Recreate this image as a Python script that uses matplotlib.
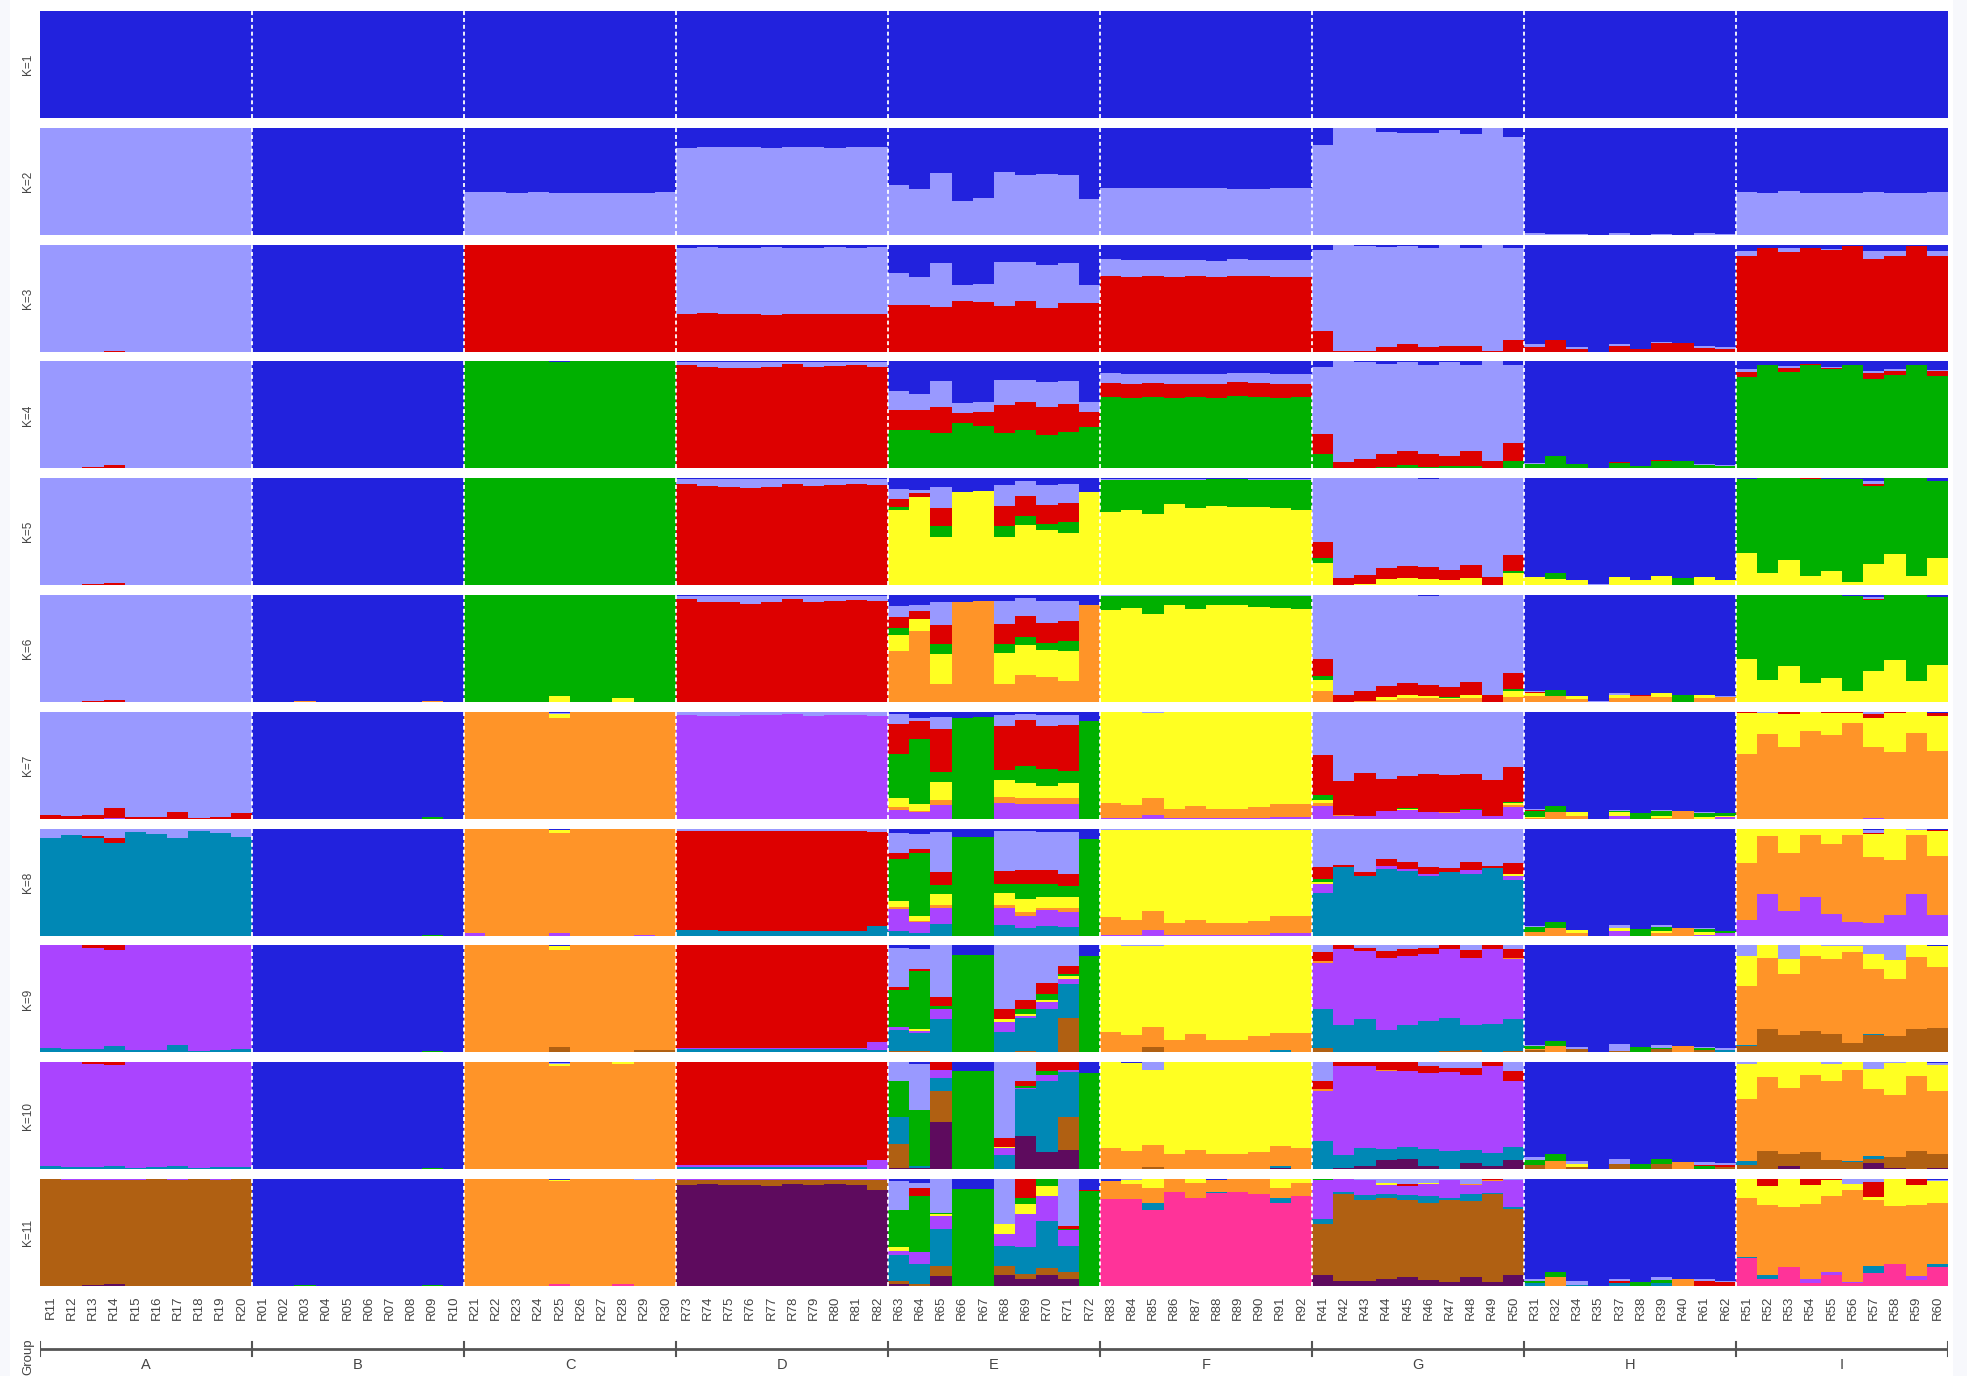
import matplotlib
matplotlib.use('Agg')
import matplotlib.pyplot as plt
from matplotlib.patches import Rectangle
import numpy as np

plt.rcParams['font.family'] = ['Liberation Sans', 'DejaVu Sans']

# ---------------- categories ----------------
groups = ['A', 'B', 'C', 'D', 'E', 'F', 'G', 'H', 'I']
group_sizes = [10, 10, 10, 10, 10, 10, 10, 10, 10]
individuals = [
    'R11', 'R12', 'R13', 'R14', 'R15', 'R16', 'R17', 'R18', 'R19', 'R20',
    'R01', 'R02', 'R03', 'R04', 'R05', 'R06', 'R07', 'R08', 'R09', 'R10',
    'R21', 'R22', 'R23', 'R24', 'R25', 'R26', 'R27', 'R28', 'R29', 'R30',
    'R73', 'R74', 'R75', 'R76', 'R77', 'R78', 'R79', 'R80', 'R81', 'R82',
    'R63', 'R64', 'R65', 'R66', 'R67', 'R68', 'R69', 'R70', 'R71', 'R72',
    'R83', 'R84', 'R85', 'R86', 'R87', 'R88', 'R89', 'R90', 'R91', 'R92',
    'R41', 'R42', 'R43', 'R44', 'R45', 'R46', 'R47', 'R48', 'R49', 'R50',
    'R31', 'R32', 'R34', 'R35', 'R37', 'R38', 'R39', 'R40', 'R61', 'R62',
    'R51', 'R52', 'R53', 'R54', 'R55', 'R56', 'R57', 'R58', 'R59', 'R60',
]
K_list = [1, 2, 3, 4, 5, 6, 7, 8, 9, 10, 11]
# cluster 1 (blue) is the remainder up to 100 %
clusters = ['blue', 'lav', 'red', 'grn', 'yel', 'org', 'pur', 'tea', 'brn', 'dpu', 'pnk']
colors = {'blue': '#2222DD', 'lav': '#9999FF', 'red': '#DD0000', 'grn': '#00B000',
          'yel': '#FFFF22', 'org': '#FF9428', 'pur': '#AA44FF', 'tea': '#0088B5',
          'brn': '#B06012', 'dpu': '#5E0B5E', 'pnk': '#FF3399'}

# ---------------- membership values (percent), groups A..I, 10 each ----------------
K2_lav = [100,100,100,100,100,100,100,100,100,100, 0,0,0,0,0,0,0,0,0,0,
          40,40,39,40,39,39,39,39,39,40, 81,82,82,82,81,82,82,81,82,82,
          47,43,58,32,34,59,56,57,56,33, 44,44,44,44,44,44,43,43,44,44,
          84,100,100,96,95,95,98,94,100,91, 2,1,1,0,2,0,1,0,2,1,
          40,39,41,39,39,39,40,39,39,40]

K3_lav = [100,100,100,99,100,100,100,100,100,100, 0,0,0,0,0,0,0,0,0,0,
          0,0,0,0,0,0,0,0,0,0, 62,62,62,62,64,62,62,63,62,63,
          29,26,41,15,17,41,37,40,38,17, 16,16,15,16,15,15,16,15,16,16,
          76,99,98,94,92,93,95,92,99,86, 3,0,2,0,2,0,1,0,2,2,
          5,0,4,0,1,0,7,5,0,5]
K3_red = [0,0,0,1,0,0,0,0,0,0, 0,0,0,0,0,0,0,0,0,0,
          100,100,100,100,100,100,100,100,100,100, 35,36,35,35,34,35,35,35,35,35,
          44,44,42,47,46,43,47,41,45,45, 71,70,71,70,71,70,71,71,70,70,
          19,1,1,4,7,4,5,5,1,11, 4,11,2,0,5,2,8,8,3,2,
          89,97,93,97,95,99,87,89,99,89]

K4_lav = [100,100,99,97,100,100,100,100,100,100, 0,0,0,0,0,0,0,0,0,0,
          0,0,0,0,0,0,0,0,0,0, 2,4,5,5,4,1,4,3,2,4,
          17,15,25,9,9,24,21,24,22,9, 9,9,8,9,9,9,8,9,9,9,
          63,94,90,85,83,84,87,81,93,73, 1,0,0,0,0,0,0,0,1,1,
          3,0,2,0,1,0,2,2,0,1]
K4_red = [0,0,1,3,0,0,0,0,0,0, 0,0,0,0,0,0,0,0,0,0,
          0,0,0,0,0,0,0,0,0,0, 97,95,94,94,95,98,95,96,97,95,
          19,19,24,10,13,26,26,26,26,14, 13,13,13,13,12,13,13,13,13,12,
          19,6,9,12,13,12,10,14,7,17, 0,0,0,0,1,0,1,0,0,0,
          5,0,4,1,1,0,5,4,0,5]
K4_grn = [0,0,0,0,0,0,0,0,0,0, 0,0,0,0,0,0,0,0,0,0,
          100,100,100,100,99,100,100,100,100,100, 0,0,0,0,0,0,0,0,0,0,
          36,36,33,42,40,33,36,31,34,39, 67,66,67,66,67,66,68,67,66,67,
          13,0,0,1,3,1,2,2,0,7, 4,12,4,0,5,2,7,7,3,2,
          85,97,90,97,93,97,84,87,97,86]

K5_lav = [100,100,99,98,100,100,100,100,100,100, 0,0,0,0,0,0,0,0,0,0,
          0,0,0,0,0,0,0,0,0,0, 4,6,7,8,7,4,6,5,4,5,
          9,3,20,0,0,20,14,19,18,0, 1,1,1,1,1,0,0,1,1,1,
          60,93,90,84,82,82,86,81,92,72, 0,0,0,1,0,0,0,0,0,0,
          0,0,0,0,0,0,2,0,0,0]
K5_red = [0,0,1,2,0,0,0,0,0,0, 0,0,0,0,0,0,0,0,0,0,
          0,0,0,0,0,0,0,0,0,0, 95,93,92,91,92,95,93,94,95,94,
          8,4,17,0,0,19,18,18,18,0, 0,0,0,0,0,0,0,0,0,0,
          15,7,9,10,11,11,9,12,8,15, 0,0,0,0,0,0,0,0,0,0,
          0,0,0,1,0,0,2,0,0,0]
K5_grn = [0,0,0,0,0,0,0,0,0,0, 0,0,0,0,0,0,0,0,0,0,
          100,100,100,100,100,100,100,100,100,100, 0,0,0,0,0,0,0,0,0,0,
          3,0,10,0,0,10,9,5,10,0, 30,28,31,22,26,25,26,25,26,28,
          4,0,0,0,0,0,0,0,0,2, 0,5,0,0,0,0,0,7,0,0,
          69,89,76,90,86,96,73,71,91,72]
K5_yel = [0,0,0,0,0,0,0,0,0,0, 0,0,0,0,0,0,0,0,0,0,
          0,0,0,0,0,0,0,0,0,0, 0,0,0,0,0,0,0,0,0,0,
          70,82,45,87,88,45,56,52,49,87, 68,70,67,76,72,74,73,73,72,70,
          21,0,1,6,7,6,5,7,0,11, 8,6,5,0,8,5,9,0,8,5,
          30,11,24,9,13,3,20,29,9,25]

K6_lav = [100,100,99,98,100,100,100,100,100,100, 0,0,0,0,0,0,0,0,0,0,
          0,0,0,0,0,0,0,0,0,0, 3,6,6,7,6,3,6,5,4,5,
          11,6,21,0,0,21,17,20,18,0, 1,1,1,1,1,1,1,1,1,1,
          60,93,90,85,82,83,86,81,93,73, 1,0,0,1,1,0,0,0,0,1,
          0,0,0,0,0,0,2,0,0,0]
K6_red = [0,0,1,2,0,0,0,0,0,0, 0,0,0,0,0,0,0,0,0,0,
          0,0,0,0,0,0,0,0,0,0, 96,93,93,92,93,96,93,94,95,94,
          10,7,18,0,0,19,19,19,19,0, 0,0,0,0,0,0,0,0,0,0,
          16,7,9,10,11,10,9,12,7,15, 1,0,0,0,0,1,0,0,0,0,
          0,0,0,0,0,0,1,0,0,0]
K6_grn = [0,0,0,0,0,0,0,0,0,0, 0,0,0,0,0,0,0,0,0,0,
          100,100,100,100,94,100,100,96,100,100, 0,0,0,0,0,0,0,0,0,0,
          6,0,9,0,0,8,8,6,9,0, 13,11,17,8,12,8,8,10,11,12,
          3,0,0,0,0,0,1,0,0,2, 0,5,0,0,0,0,0,7,0,0,
          60,79,66,82,78,89,66,61,80,63]
K6_yel = [0,0,0,0,0,0,0,0,0,0, 0,0,0,0,0,0,0,0,0,0,
          0,0,0,0,6,0,0,4,0,0, 0,0,0,0,0,0,0,0,0,0,
          15,12,28,0,0,29,28,26,28,0, 86,88,82,91,87,91,91,89,88,87,
          11,0,0,3,3,2,1,3,0,5, 2,0,3,0,3,0,3,0,3,0,
          40,21,34,18,22,10,29,39,20,35]
K6_org = [0,0,0,0,0,0,0,0,0,0, 0,0,1,0,0,0,0,0,1,0,
          0,0,0,0,0,0,0,0,0,0, 0,0,0,0,0,0,0,0,0,0,
          48,66,17,93,94,17,25,23,20,91, 0,0,0,0,0,0,0,0,0,0,
          10,0,1,2,4,4,3,4,0,5, 6,6,3,0,4,6,5,0,4,5,
          0,0,0,0,0,0,0,0,0,0]

K7_lav = [96,97,96,90,98,98,94,99,98,95, 0,0,0,0,0,0,0,0,0,0,
          0,0,0,0,1,0,0,0,0,0, 3,4,4,3,3,2,4,3,3,4,
          9,3,11,0,0,10,6,10,9,0, 0,0,1,0,0,0,0,0,0,0,
          40,65,57,63,60,58,59,58,64,52, 1,0,0,0,1,0,1,0,1,0,
          0,1,0,0,0,0,2,0,0,0]
K7_red = [4,3,4,9,2,2,6,1,2,5, 0,0,0,0,0,0,0,0,0,0,
          0,0,0,0,0,0,0,0,0,0, 0,0,0,0,0,0,0,0,0,0,
          28,16,40,0,0,41,43,40,43,0, 0,0,0,0,0,0,0,0,0,0,
          38,31,40,30,30,36,35,33,33,32, 1,0,0,0,0,0,0,0,0,0,
          1,0,2,0,1,1,4,1,0,3]
K7_grn = [0,0,0,0,0,0,0,0,0,0, 0,0,0,0,0,0,0,0,2,0,
          0,0,0,0,0,0,0,0,0,0, 0,0,0,0,0,0,0,0,0,0,
          42,61,10,94,95,10,16,16,12,91, 0,0,0,0,0,0,0,0,0,0,
          4,0,0,0,1,0,0,1,0,1, 5,6,0,0,1,5,4,0,3,2,
          0,0,0,0,0,0,0,0,0,0]
K7_yel = [0,0,0,0,0,0,0,0,0,0, 0,0,0,0,0,0,0,0,0,0,
          0,0,0,0,4,0,0,0,0,0, 0,0,0,0,0,0,0,0,0,0,
          8,7,16,0,0,16,14,12,14,0, 85,87,80,91,88,91,91,89,86,86,
          3,0,0,0,1,0,0,0,0,2, 1,0,3,0,3,0,2,0,2,1,
          38,20,31,18,21,9,27,37,20,33]
K7_org = [0,0,0,0,0,0,0,0,0,0, 0,0,0,0,0,0,0,0,0,0,
          100,100,100,100,94,100,100,100,100,100, 0,0,0,0,0,0,0,0,0,0,
          3,1,5,0,0,5,5,5,5,0, 14,12,15,8,11,8,8,10,12,12,
          3,1,0,0,0,0,1,0,0,2, 1,6,3,0,0,0,1,7,0,0,
          61,79,67,82,78,90,66,62,80,63]
K7_pur = [0,0,0,1,0,0,0,0,0,0, 0,0,0,0,0,0,0,0,0,0,
          0,0,0,0,0,0,0,0,0,0, 97,96,96,97,97,98,96,97,97,96,
          8,6,13,0,0,15,14,14,14,0, 1,1,4,1,1,1,1,1,2,2,
          12,3,3,7,8,6,5,8,3,11, 0,0,0,0,3,0,0,0,0,2,
          0,0,0,0,0,0,1,0,0,0]

K8_lav = [9,6,7,9,3,5,9,2,4,8, 0,0,0,0,0,0,0,0,0,0,
          0,0,0,0,0,0,0,0,0,0, 2,2,2,2,2,2,2,2,2,3,
          19,14,38,0,0,38,37,36,39,0, 1,1,1,1,1,1,1,1,1,1,
          36,34,41,28,31,36,37,31,35,32, 1,0,0,0,3,0,2,0,1,0,
          0,0,0,0,0,0,3,0,1,0]
K8_red = [0,0,2,4,0,0,0,0,0,0, 0,0,0,0,0,0,0,0,0,0,
          0,0,0,0,0,0,0,0,0,0, 93,93,94,94,94,94,94,94,94,88,
          5,4,12,0,0,12,13,13,12,0, 0,0,0,0,0,0,0,0,0,0,
          11,2,3,7,7,6,4,8,2,10, 0,0,0,0,0,0,0,0,0,0,
          0,0,0,0,0,0,1,0,0,1]
K8_grn = [0,0,0,0,0,0,0,0,0,0, 0,0,0,0,0,0,0,0,1,0,
          0,0,0,0,0,0,0,0,0,0, 0,0,0,0,0,0,0,0,0,0,
          40,59,8,92,92,8,14,12,10,90, 0,0,0,0,0,0,0,0,0,0,
          3,0,0,0,0,0,0,0,0,0, 5,6,0,0,0,6,4,0,3,2,
          0,0,0,0,0,0,0,0,0,0]
K8_yel = [0,0,0,0,0,0,0,0,0,0, 0,0,0,0,0,0,0,0,0,0,
          0,0,0,0,3,0,0,0,0,0, 0,0,0,0,0,0,0,0,0,0,
          5,4,10,0,0,11,12,10,10,0, 82,84,76,87,84,87,87,85,81,81,
          2,0,0,0,0,0,0,0,0,2, 0,0,3,0,3,0,2,0,2,0,
          32,7,23,6,14,6,22,29,5,24]
K8_org = [0,0,0,0,0,0,0,0,0,0, 0,0,0,0,0,0,0,0,0,0,
          98,100,100,100,94,100,100,100,99,100, 0,0,0,0,0,0,0,0,0,0,
          2,1,3,0,0,3,4,2,4,0, 16,14,18,11,14,11,11,13,16,16,
          0,0,0,0,0,0,0,0,0,0, 3,7,2,0,0,0,2,7,0,0,
          53,54,54,58,66,81,61,52,55,55]
K8_pur = [0,0,0,0,0,0,0,0,0,0, 0,0,0,0,0,0,0,0,0,0,
          2,0,0,0,2,0,0,0,1,0, 0,0,0,0,0,0,0,0,0,0,
          21,11,15,0,0,16,11,15,14,0, 1,1,5,1,1,1,1,1,2,2,
          8,0,0,3,2,2,0,3,0,4, 0,0,0,0,4,0,0,0,1,2,
          15,39,23,36,20,13,12,19,39,19]
K8_tea = [91,94,91,87,97,95,91,98,96,92, 0,0,0,0,0,0,0,0,0,0,
          0,0,0,0,0,0,0,0,0,0, 5,5,4,4,4,4,4,4,4,9,
          4,2,11,0,0,10,7,9,8,0, 0,0,0,0,0,0,0,0,0,0,
          40,64,56,62,60,56,59,58,63,52, 0,0,0,0,0,0,0,0,0,0,
          0,0,0,0,0,0,0,0,0,0]

K9_lav = [0,0,0,0,0,0,0,0,0,0, 0,0,0,0,0,0,0,0,0,0,
          0,0,0,0,0,0,0,0,0,0, 0,0,0,0,0,0,0,0,0,0,
          37,19,48,0,0,59,51,35,19,0, 0,1,1,0,0,0,0,0,0,0,
          6,0,2,5,3,2,0,4,0,3, 1,0,2,0,7,0,3,0,1,2,
          10,0,13,0,1,1,8,14,0,0]
K9_red = [0,0,2,4,0,0,0,0,0,0, 0,0,0,0,0,0,0,0,0,0,
          0,0,0,0,0,0,0,0,0,0, 96,96,96,96,96,96,96,96,96,90,
          3,2,9,0,0,10,8,10,8,0, 0,0,0,0,0,0,0,0,0,0,
          9,3,3,7,7,6,3,8,3,9, 0,0,0,0,0,0,0,0,0,0,
          0,0,0,0,0,0,0,0,0,0]
K9_grn = [0,0,0,0,0,0,0,0,0,0, 0,0,0,0,0,0,0,0,1,0,
          0,0,0,0,0,0,0,0,0,0, 0,0,0,0,0,0,0,0,0,0,
          34,54,2,91,91,0,5,6,2,90, 0,0,0,0,0,0,0,0,0,0,
          0,0,0,0,0,0,0,0,0,0, 3,5,0,0,0,5,1,0,2,0,
          0,0,0,0,0,0,0,0,0,0]
K9_yel = [0,0,0,0,0,0,0,0,0,0, 0,0,0,0,0,0,0,0,0,0,
          0,0,0,0,3,0,0,0,0,0, 0,0,0,0,0,0,0,0,0,0,
          0,2,0,0,0,3,2,2,2,0, 81,83,75,88,83,88,88,85,82,82,
          0,0,0,0,0,0,0,0,0,0, 0,0,0,0,0,0,0,0,0,0,
          28,12,14,10,12,5,14,17,11,19]
K9_org = [0,0,0,0,0,0,0,0,0,0, 0,0,0,0,0,0,0,0,0,0,
          100,100,100,100,91,100,100,100,98,98, 0,0,0,0,0,0,0,0,0,0,
          0,0,0,0,0,0,0,0,0,0, 19,16,19,12,17,12,12,15,16,18,
          1,0,0,0,0,0,0,0,0,1, 1,6,0,0,0,0,0,6,0,0,
          55,66,57,70,70,85,61,54,67,57]
K9_pur = [96,97,95,90,98,98,93,99,98,97, 0,0,0,0,0,0,0,0,0,0,
          0,0,0,0,0,0,0,0,0,0, 1,1,1,1,1,1,1,1,1,8,
          3,2,10,0,0,9,2,6,5,0, 0,0,0,0,0,0,0,0,0,0,
          43,71,64,67,64,63,65,62,70,56, 0,0,0,0,0,0,0,0,0,0,
          0,0,0,0,0,0,0,0,0,0]
K9_tea = [4,3,3,6,2,2,7,1,2,3, 0,0,0,0,0,0,0,0,0,0,
          0,0,0,0,0,0,0,0,0,0, 3,3,3,3,3,3,3,3,3,2,
          20,17,31,0,0,19,31,41,32,0, 0,0,0,0,0,0,0,0,2,0,
          37,26,31,21,26,29,31,24,27,30, 0,0,0,0,0,0,0,0,0,2,
          1,0,0,0,0,0,1,0,0,0]
K9_brn = [0,0,0,0,0,0,0,0,0,0, 0,0,0,0,0,0,0,0,0,0,
          0,0,0,0,5,0,0,0,2,2, 0,0,0,0,0,0,0,0,0,0,
          1,1,0,0,0,0,1,0,32,0, 0,0,5,0,0,0,0,0,0,0,
          4,0,0,0,0,0,1,2,0,1, 2,0,3,0,1,0,3,0,2,0,
          6,22,16,20,17,9,16,15,22,23]

K10_lav = [0,0,0,0,0,0,0,0,0,0, 0,0,0,0,0,0,0,0,0,0,
           0,0,0,0,1,0,0,0,0,0, 0,0,0,0,0,0,0,0,0,0,
           18,43,0,0,0,71,18,0,0,0, 0,0,7,0,0,0,0,0,0,0,
           18,0,0,0,0,4,5,5,0,8, 2,0,3,0,5,0,0,0,3,2,
           2,0,0,0,2,0,6,1,0,2]
K10_red = [0,0,2,3,0,0,0,0,0,0, 0,0,0,0,0,0,0,0,0,0,
           0,0,0,0,0,0,0,0,0,0, 96,96,96,96,96,96,96,96,96,91,
           0,0,7,0,0,8,4,8,7,0, 0,0,0,0,0,0,0,0,0,0,
           7,4,4,7,8,6,4,7,4,10, 0,0,0,0,0,0,0,0,1,2,
           0,0,0,0,0,0,0,0,0,0]
K10_grn = [0,0,0,0,0,0,0,0,0,0, 0,0,0,0,0,0,0,0,1,0,
           0,0,0,0,0,0,0,0,0,0, 0,0,0,0,0,0,0,0,0,0,
           33,52,0,92,92,0,2,4,0,90, 0,0,0,0,0,0,0,0,0,0,
           0,0,0,0,0,0,0,0,0,0, 5,6,0,0,0,5,5,0,3,0,
           0,0,0,0,0,0,0,0,0,0]
K10_yel = [0,0,0,0,0,0,0,0,0,0, 0,0,0,0,0,0,0,0,0,0,
           0,0,0,0,2,0,0,2,0,0, 0,0,0,0,0,0,0,0,0,0,
           0,0,0,0,0,1,0,0,0,0, 80,82,70,86,82,86,86,84,78,80,
           0,0,0,0,0,0,0,0,0,0, 0,0,3,0,0,0,0,0,0,0,
           32,14,24,12,16,7,19,30,13,24]
K10_org = [0,0,0,0,0,0,0,0,0,0, 0,0,0,0,0,0,0,0,0,0,
           100,100,100,100,96,100,100,98,100,100, 0,0,0,0,0,0,0,0,0,0,
           0,0,0,0,0,0,0,0,0,0, 20,17,21,14,18,14,14,16,19,20,
           2,0,0,1,0,0,0,0,0,0, 0,8,0,0,0,0,0,7,0,0,
           58,69,62,72,73,85,63,58,70,59]
K10_pur = [97,98,96,94,99,98,97,99,98,98, 0,0,0,0,0,0,0,0,0,0,
           0,0,0,0,0,0,0,0,0,0, 2,2,2,2,2,2,2,2,2,9,
           0,0,8,0,0,7,1,6,2,0, 0,0,0,0,0,0,0,0,0,0,
           47,83,76,73,71,71,74,70,81,61, 0,0,0,0,0,0,0,0,0,0,
           0,0,0,0,0,0,0,0,0,0]
K10_tea = [3,2,2,3,1,2,3,1,2,2, 0,0,0,0,0,0,0,0,0,0,
           0,0,0,0,0,0,0,0,0,0, 2,2,2,2,2,2,2,2,2,0,
           25,2,12,0,0,13,44,66,42,0, 0,0,0,0,0,0,0,0,2,0,
           26,12,17,10,11,16,17,12,12,12, 0,0,0,0,0,0,0,0,0,0,
           4,0,0,0,0,1,2,0,0,0]
K10_brn = [0,0,0,0,0,0,0,0,0,0, 0,0,0,0,0,0,0,0,0,0,
           0,0,0,0,0,0,0,0,0,0, 0,0,0,0,0,0,0,0,0,0,
           23,0,29,0,0,0,0,0,31,0, 0,0,2,0,0,0,0,0,0,0,
           0,0,0,0,0,0,0,0,0,0, 4,0,2,0,5,0,5,0,0,2,
           4,17,11,16,9,7,4,10,17,13]
K10_dpu = [0,0,0,0,0,0,0,0,0,0, 0,0,0,0,0,0,0,0,0,0,
           0,0,0,0,0,0,0,0,0,0, 0,0,0,0,0,0,0,0,0,0,
           1,1,44,0,0,0,31,16,18,0, 0,0,0,0,0,0,0,0,1,0,
           0,1,3,9,10,3,0,6,3,9, 0,0,0,0,0,0,0,0,0,0,
           0,0,3,0,0,0,6,1,0,1]

K11_lav = [0,0,0,0,0,0,0,0,0,0, 0,0,0,0,0,0,0,0,0,0,
           0,0,0,0,0,0,0,0,1,0, 0,0,0,0,0,0,0,0,0,0,
           27,4,32,0,0,42,0,0,44,0, 0,1,0,0,0,0,0,0,0,0,
           0,0,1,4,5,4,1,5,0,1, 2,0,4,0,2,0,2,0,2,1,
           0,0,0,0,0,5,3,0,0,1]
K11_red = [0,0,0,0,0,0,0,0,0,0, 0,0,0,0,0,0,0,0,0,0,
           0,0,0,0,0,0,0,0,0,0, 0,0,0,0,0,0,0,0,0,0,
           0,8,0,0,0,0,18,0,3,1, 0,0,0,0,0,0,0,0,0,0,
           0,0,0,0,2,0,0,0,1,0, 0,0,0,0,2,0,0,0,5,4,
           0,7,0,6,1,0,14,0,6,0]
K11_grn = [0,0,0,0,0,0,0,0,0,0, 0,0,1,0,0,0,0,0,1,0,
           0,0,0,0,0,0,0,0,0,0, 0,0,0,0,0,0,0,0,0,0,
           35,52,1,91,91,0,5,7,1,89, 0,0,0,0,0,0,0,0,0,0,
           1,0,0,0,0,0,0,0,0,0, 2,5,0,0,0,4,3,0,0,0,
           0,0,0,0,0,0,0,0,0,0]
K11_yel = [0,0,0,0,0,0,0,0,0,0, 0,0,0,0,0,0,0,0,0,0,
           0,0,0,0,1,0,0,0,0,0, 0,0,0,0,0,0,0,0,0,0,
           3,0,2,0,0,9,10,9,0,0, 0,4,8,0,4,0,0,0,8,4,
           0,0,0,2,0,1,0,0,0,0, 0,0,0,0,0,0,0,0,0,0,
           18,17,26,17,15,5,3,25,18,20]
K11_org = [0,0,0,0,0,0,0,0,0,0, 0,0,0,0,0,0,0,0,0,0,
           100,100,100,100,96,100,100,98,99,100, 0,0,0,0,0,0,0,0,0,0,
           0,0,0,0,0,0,0,0,0,0, 17,14,14,12,14,11,12,14,10,12,
           0,0,0,0,0,0,0,1,1,0, 0,8,0,0,0,0,0,7,0,0,
           55,66,56,70,71,86,61,54,67,57]
K11_pur = [0,1,1,1,1,0,1,0,1,0, 0,0,0,0,0,0,0,0,0,0,
           0,0,0,0,0,0,0,0,0,0, 1,1,1,1,1,1,1,1,1,1,
           4,11,12,0,0,12,31,23,15,0, 0,0,0,0,0,0,0,0,0,0,
           36,12,14,8,8,11,17,8,11,25, 0,0,0,0,0,0,0,0,0,0,
           0,0,0,4,3,1,0,0,3,0]
K11_tea = [0,0,0,0,0,0,0,0,0,0, 0,0,0,0,0,0,0,0,0,0,
           0,0,0,0,0,0,0,0,0,0, 0,0,0,0,0,0,0,0,0,0,
           24,19,34,0,0,18,25,44,24,0, 0,0,7,0,0,1,0,0,4,0,
           5,2,5,4,5,6,2,7,1,2, 3,0,1,0,3,0,3,0,0,0,
           1,3,0,0,0,0,7,0,0,3]
K11_brn = [100,99,98,97,99,100,99,100,99,100, 0,0,0,0,0,0,0,0,0,0,
           0,0,0,0,0,0,0,0,0,0, 5,4,5,5,6,4,5,4,5,9,
           3,2,10,0,0,9,4,7,6,0, 0,0,0,0,0,0,0,0,0,0,
           48,81,75,75,72,72,76,71,82,62, 0,0,0,0,0,0,0,0,0,0,
           0,0,0,0,0,0,0,0,0,0]
K11_dpu = [0,0,1,2,0,0,0,0,0,0, 0,0,0,0,0,0,0,0,0,0,
           0,0,0,0,0,0,0,0,0,0, 94,95,94,94,93,95,94,95,94,90,
           2,0,9,0,0,10,7,10,7,0, 0,0,0,0,0,0,0,0,0,0,
           10,5,5,7,8,6,4,8,4,10, 0,0,0,0,0,0,0,0,0,0,
           0,0,0,0,0,0,0,0,0,0]
K11_pnk = [0,0,0,0,0,0,0,0,0,0, 0,0,0,0,0,0,0,0,0,0,
           0,0,0,0,2,0,0,2,0,0, 0,0,0,0,0,0,0,0,0,0,
           0,0,0,0,0,0,0,0,0,0, 81,81,71,88,82,87,88,86,78,84,
           0,0,0,0,0,0,0,0,0,0, 0,0,0,0,0,0,0,0,0,0,
           26,7,18,3,10,3,12,21,6,18]

K_values = {
    1: {},
    2: {'lav': K2_lav},
    3: {'lav': K3_lav, 'red': K3_red},
    4: {'lav': K4_lav, 'red': K4_red, 'grn': K4_grn},
    5: {'lav': K5_lav, 'red': K5_red, 'grn': K5_grn, 'yel': K5_yel},
    6: {'lav': K6_lav, 'red': K6_red, 'grn': K6_grn, 'yel': K6_yel, 'org': K6_org},
    7: {'lav': K7_lav, 'red': K7_red, 'grn': K7_grn, 'yel': K7_yel, 'org': K7_org,
        'pur': K7_pur},
    8: {'lav': K8_lav, 'red': K8_red, 'grn': K8_grn, 'yel': K8_yel, 'org': K8_org,
        'pur': K8_pur, 'tea': K8_tea},
    9: {'lav': K9_lav, 'red': K9_red, 'grn': K9_grn, 'yel': K9_yel, 'org': K9_org,
        'pur': K9_pur, 'tea': K9_tea, 'brn': K9_brn},
    10: {'lav': K10_lav, 'red': K10_red, 'grn': K10_grn, 'yel': K10_yel, 'org': K10_org,
         'pur': K10_pur, 'tea': K10_tea, 'brn': K10_brn, 'dpu': K10_dpu},
    11: {'lav': K11_lav, 'red': K11_red, 'grn': K11_grn, 'yel': K11_yel, 'org': K11_org,
         'pur': K11_pur, 'tea': K11_tea, 'brn': K11_brn, 'dpu': K11_dpu, 'pnk': K11_pnk},
}

# ---------------- layout ----------------
W, H = 1967, 1376
fig = plt.figure(figsize=(W / 100, H / 100), dpi=100)
fig.patch.set_facecolor('white')
fig.patches.append(Rectangle((0, 0), 10 / W, 1, transform=fig.transFigure,
                             facecolor='#F7F8FC', edgecolor='none', zorder=-5))
fig.patches.append(Rectangle((1953 / W, 0), 14 / W, 1, transform=fig.transFigure,
                             facecolor='#F7F8FC', edgecolor='none', zorder=-5))

x0_px, x1_px = 40, 1948
top0, pitch, ph = 11, 116.8, 107
n = len(individuals)
x = np.arange(n)
bounds = np.cumsum(group_sizes)[:-1] - 0.5
label_color = '#444444'

for i, K in enumerate(K_list):
    top = top0 + i * pitch
    ax = fig.add_axes([x0_px / W, 1 - (top + ph) / H, (x1_px - x0_px) / W, ph / H])
    vals = K_values[K]
    bottom = np.zeros(n)
    for cname in reversed(clusters[1:K]):
        v = np.array(vals.get(cname, np.zeros(n)), dtype=float)
        ax.bar(x, v, width=1.0, bottom=bottom, color=colors[cname],
               linewidth=0, antialiased=False, align='center')
        bottom = bottom + v
    blue = np.clip(100 - bottom, 0, None)
    ax.bar(x, blue, width=1.0, bottom=bottom, color=colors['blue'],
           linewidth=0, antialiased=False, align='center')
    for b in bounds:
        ax.axvline(b, color='white', lw=1.3, dashes=(2.2, 1.6))
    ax.set_xlim(-0.5, n - 0.5)
    ax.set_ylim(0, 100)
    for s in ax.spines.values():
        s.set_visible(False)
    ax.set_yticks([])
    if K != K_list[-1]:
        ax.set_xticks([])
    else:
        ax.set_xticks(x)
        ax.set_xticklabels(individuals, rotation=90, fontsize=9.5, color=label_color)
        ax.tick_params(axis='x', length=0, pad=7)
    fig.text(28 / W, 1 - (top + ph / 2) / H, f'K={K}', rotation=90, ha='center',
             va='center', fontsize=8.5, color=label_color)

# group bracket
gax = fig.add_axes([x0_px / W, 0, (x1_px - x0_px) / W, 40 / H])
gax.set_xlim(-0.5, n - 0.5)
gax.set_ylim(0, 40)
gax.axis('off')
edges = np.concatenate([[-0.5], np.cumsum(group_sizes) - 0.5])
gax.plot([edges[0], edges[-1]], [27, 27], color='#555555', lw=2.0, solid_capstyle='butt')
for e in edges:
    gax.plot([e, e], [20, 34], color='#555555', lw=1.5)
for g, lo, hi in zip(groups, edges[:-1], edges[1:]):
    gax.text((lo + hi) / 2, 11, g, ha='center', va='center', fontsize=10.5, color=label_color)
fig.text(28 / W, 1 - 1357 / H, 'Group', rotation=90, ha='center', va='center',
         fontsize=9.5, color=label_color)

fig.savefig('out.png', dpi=100, facecolor='white')
